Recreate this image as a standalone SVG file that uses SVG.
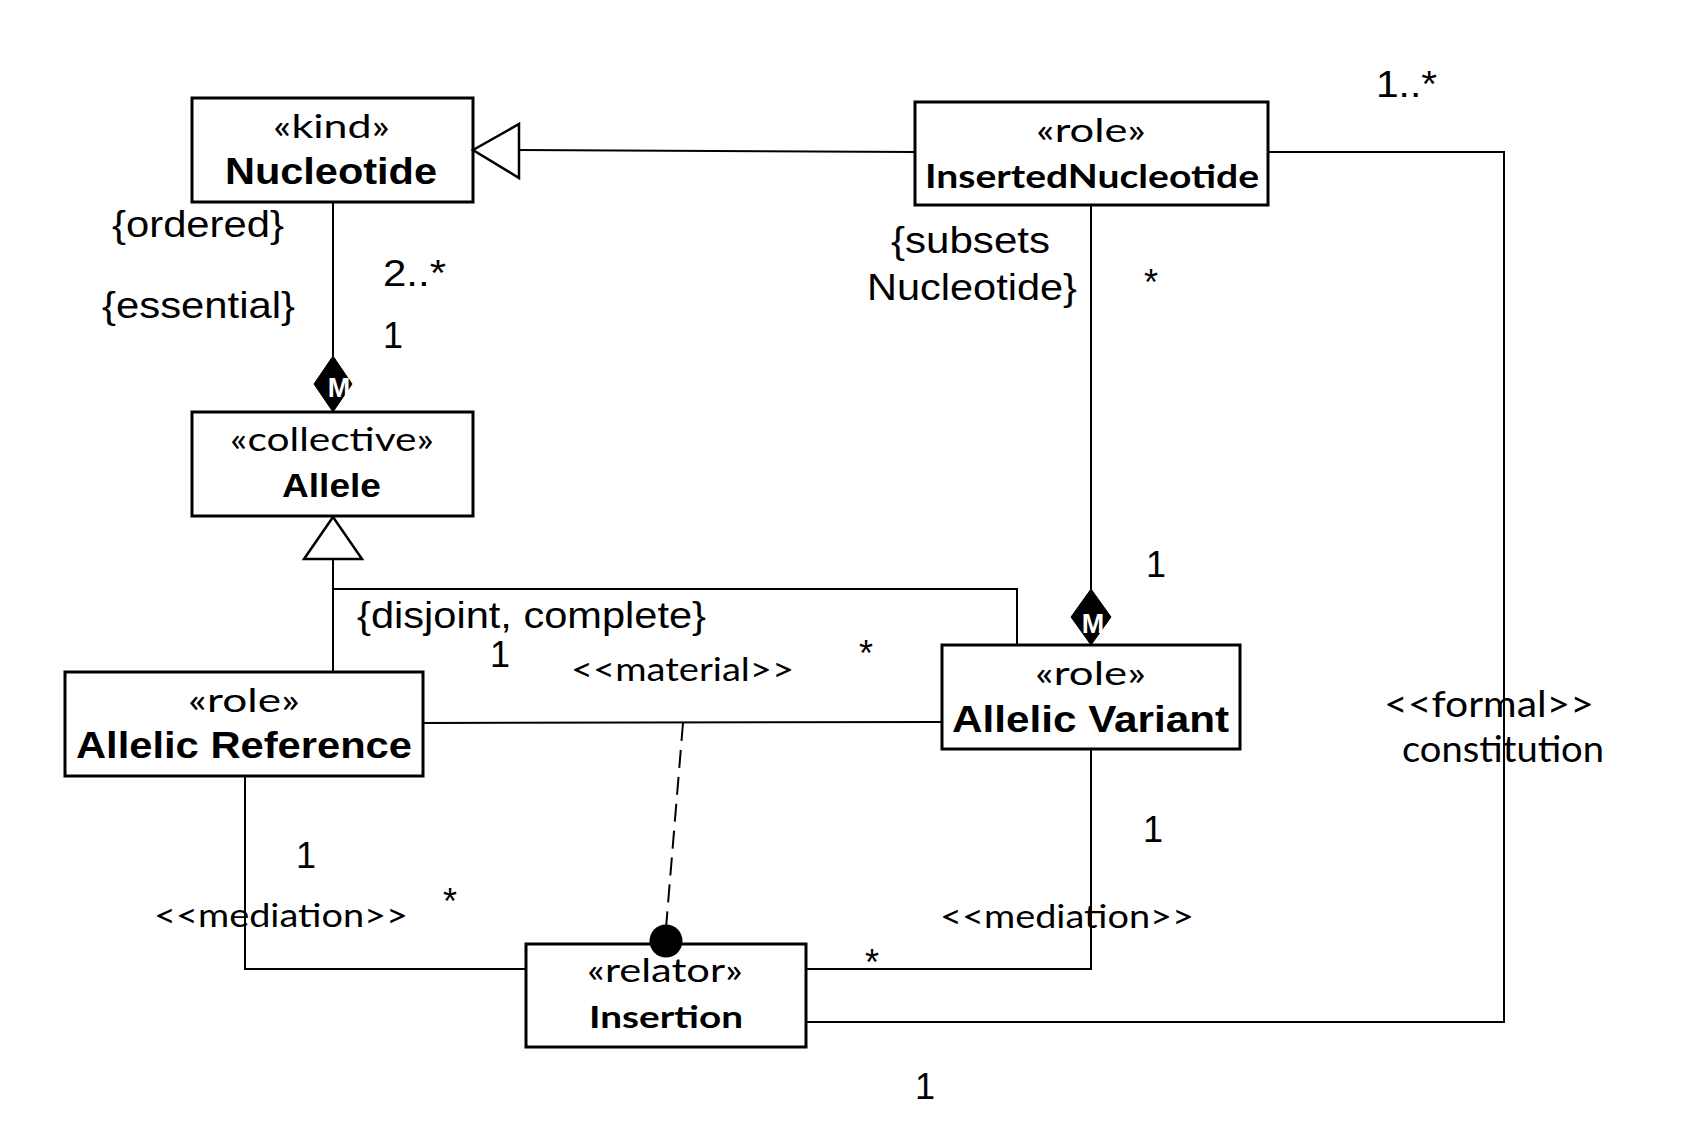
<svg xmlns="http://www.w3.org/2000/svg" width="1682" height="1142" viewBox="0 0 1682 1142">
<style>
.box{fill:#fff;stroke:#000;stroke-width:3}
.ln{fill:none;stroke:#000;stroke-width:2}
.dash{fill:none;stroke:#000;stroke-width:2;stroke-dasharray:18 9}
.hollow{fill:#fff;stroke:#000;stroke-width:2.5}
.solid{fill:#000;stroke:#000;stroke-width:1}
.ar{font-family:"Liberation Sans",Arial,sans-serif;font-size:36px;fill:#000}
.arb{font-family:"Liberation Sans",Arial,sans-serif;font-size:36px;font-weight:bold;fill:#000}
.st{font-family:Lato,"Open Sans",sans-serif;font-size:32px;fill:#000}
.cb{font-family:Lato,"Open Sans",sans-serif;font-size:33px;font-weight:bold;fill:#000}
.lb{font-family:Lato,"Open Sans",sans-serif;font-size:33px;fill:#000}
.m{font-family:"Liberation Sans",Arial,sans-serif;font-size:27px;font-weight:bold;fill:#fff;text-anchor:middle}
</style>
<rect width="1682" height="1142" fill="#fff"/>

<g id="nucleotide">
<rect class="box" x="192" y="98" width="281" height="104"/>
<text class="st" x="273" y="138" textLength="117" lengthAdjust="spacingAndGlyphs">«kind»</text>
<text class="arb" x="225" y="184" textLength="212" lengthAdjust="spacingAndGlyphs">Nucleotide</text>
</g>

<g id="insertedNucleotide">
<rect class="box" x="915" y="102" width="353" height="103"/>
<text class="st" x="1036" y="142" textLength="110" lengthAdjust="spacingAndGlyphs">«role»</text>
<text class="cb" x="925" y="188" textLength="334" lengthAdjust="spacingAndGlyphs">InsertedNucleotide</text>
</g>

<g id="allele">
<rect class="box" x="192" y="412" width="281" height="104"/>
<text class="st" x="230" y="451" textLength="204" lengthAdjust="spacingAndGlyphs">«collective»</text>
<text class="arb" x="282" y="497" style="font-size:34px" textLength="99" lengthAdjust="spacingAndGlyphs">Allele</text>
</g>

<g id="allelicReference">
<rect class="box" x="65" y="672" width="358" height="104"/>
<text class="st" x="188" y="712" textLength="112" lengthAdjust="spacingAndGlyphs">«role»</text>
<text class="arb" x="76" y="758" textLength="336" lengthAdjust="spacingAndGlyphs">Allelic Reference</text>
</g>

<g id="allelicVariant">
<rect class="box" x="942" y="645" width="298" height="104"/>
<text class="st" x="1035" y="685" textLength="111" lengthAdjust="spacingAndGlyphs">«role»</text>
<text class="arb" x="952" y="732" textLength="277" lengthAdjust="spacingAndGlyphs">Allelic Variant</text>
</g>

<g id="insertion">
<rect class="box" x="526" y="944" width="280" height="103"/>
<text class="st" x="587" y="982" textLength="156" lengthAdjust="spacingAndGlyphs">«relator»</text>
<text class="cb" x="589" y="1028" style="font-size:30px" textLength="154" lengthAdjust="spacingAndGlyphs">Insertion</text>
</g>

<g id="connectors">
<!-- generalization InsertedNucleotide -> Nucleotide -->
<line class="ln" x1="915" y1="152" x2="519" y2="150"/>
<polygon class="hollow" points="473,150 519,124 519,178"/>
<!-- composition Nucleotide - Allele -->
<line class="ln" x1="333" y1="202" x2="333" y2="356"/>
<polygon class="solid" points="333,356 352,384 333,412 314,384"/>
<text class="m" x="339" y="397">M</text>
<!-- generalization set Allele -->
<polygon class="hollow" points="333,517 362,559 304,559"/>
<polyline class="ln" points="333,559 333,672"/>
<polyline class="ln" points="333,589 1017,589 1017,645"/>
<!-- material -->
<line class="ln" x1="423" y1="723" x2="942" y2="722"/>
<line class="dash" x1="683" y1="723" x2="666" y2="928"/>
<circle cx="666" cy="941" r="16.5" fill="#000"/>
<!-- mediations -->
<polyline class="ln" points="245,776 245,969 526,969"/>
<polyline class="ln" points="806,969 1091,969 1091,749"/>
<!-- formal -->
<polyline class="ln" points="806,1022 1504,1022 1504,152 1268,152"/>
<!-- composition InsertedNucleotide - Allelic Variant -->
<line class="ln" x1="1091" y1="205" x2="1091" y2="589"/>
<polygon class="solid" points="1091,589 1111,617 1091,645 1071,617"/>
<text class="m" x="1093" y="633">M</text>

<!-- labels -->
<text class="ar" x="112" y="237" textLength="172" lengthAdjust="spacingAndGlyphs">{ordered}</text>
<text class="ar" x="383" y="286" textLength="63" lengthAdjust="spacingAndGlyphs">2..*</text>
<text class="ar" x="102" y="318" textLength="193" lengthAdjust="spacingAndGlyphs">{essential}</text>
<text class="ar" x="383" y="348">1</text>
<text class="ar" x="891" y="253" textLength="159" lengthAdjust="spacingAndGlyphs">{subsets</text>
<text class="ar" x="867" y="300" textLength="210" lengthAdjust="spacingAndGlyphs">Nucleotide}</text>
<text class="ar" x="1144" y="295">*</text>
<text class="ar" x="1376" y="97" textLength="61" lengthAdjust="spacingAndGlyphs">1..*</text>
<text class="ar" x="1146" y="577">1</text>
<text class="ar" x="357" y="628" textLength="349" lengthAdjust="spacingAndGlyphs">{disjoint, complete}</text>
<text class="ar" x="490" y="667">1</text>
<text class="ar" x="859" y="666">*</text>
<text class="lb" x="571" y="681" textLength="223" lengthAdjust="spacingAndGlyphs">&lt;&lt;material&gt;&gt;</text>
<text class="ar" x="296" y="868">1</text>
<text class="ar" x="443" y="914">*</text>
<text class="lb" x="154" y="927" textLength="254" lengthAdjust="spacingAndGlyphs">&lt;&lt;mediation&gt;&gt;</text>
<text class="ar" x="1143" y="842">1</text>
<text class="lb" x="940" y="928" textLength="254" lengthAdjust="spacingAndGlyphs">&lt;&lt;mediation&gt;&gt;</text>
<text class="ar" x="865" y="975">*</text>
<text class="lb" x="1384" y="717" style="font-size:36px" textLength="210" lengthAdjust="spacingAndGlyphs">&lt;&lt;formal&gt;&gt;</text>
<text class="lb" x="1402" y="762" style="font-size:36px" textLength="202" lengthAdjust="spacingAndGlyphs">constitution</text>
<text class="ar" x="915" y="1099">1</text>
</g>
</svg>
